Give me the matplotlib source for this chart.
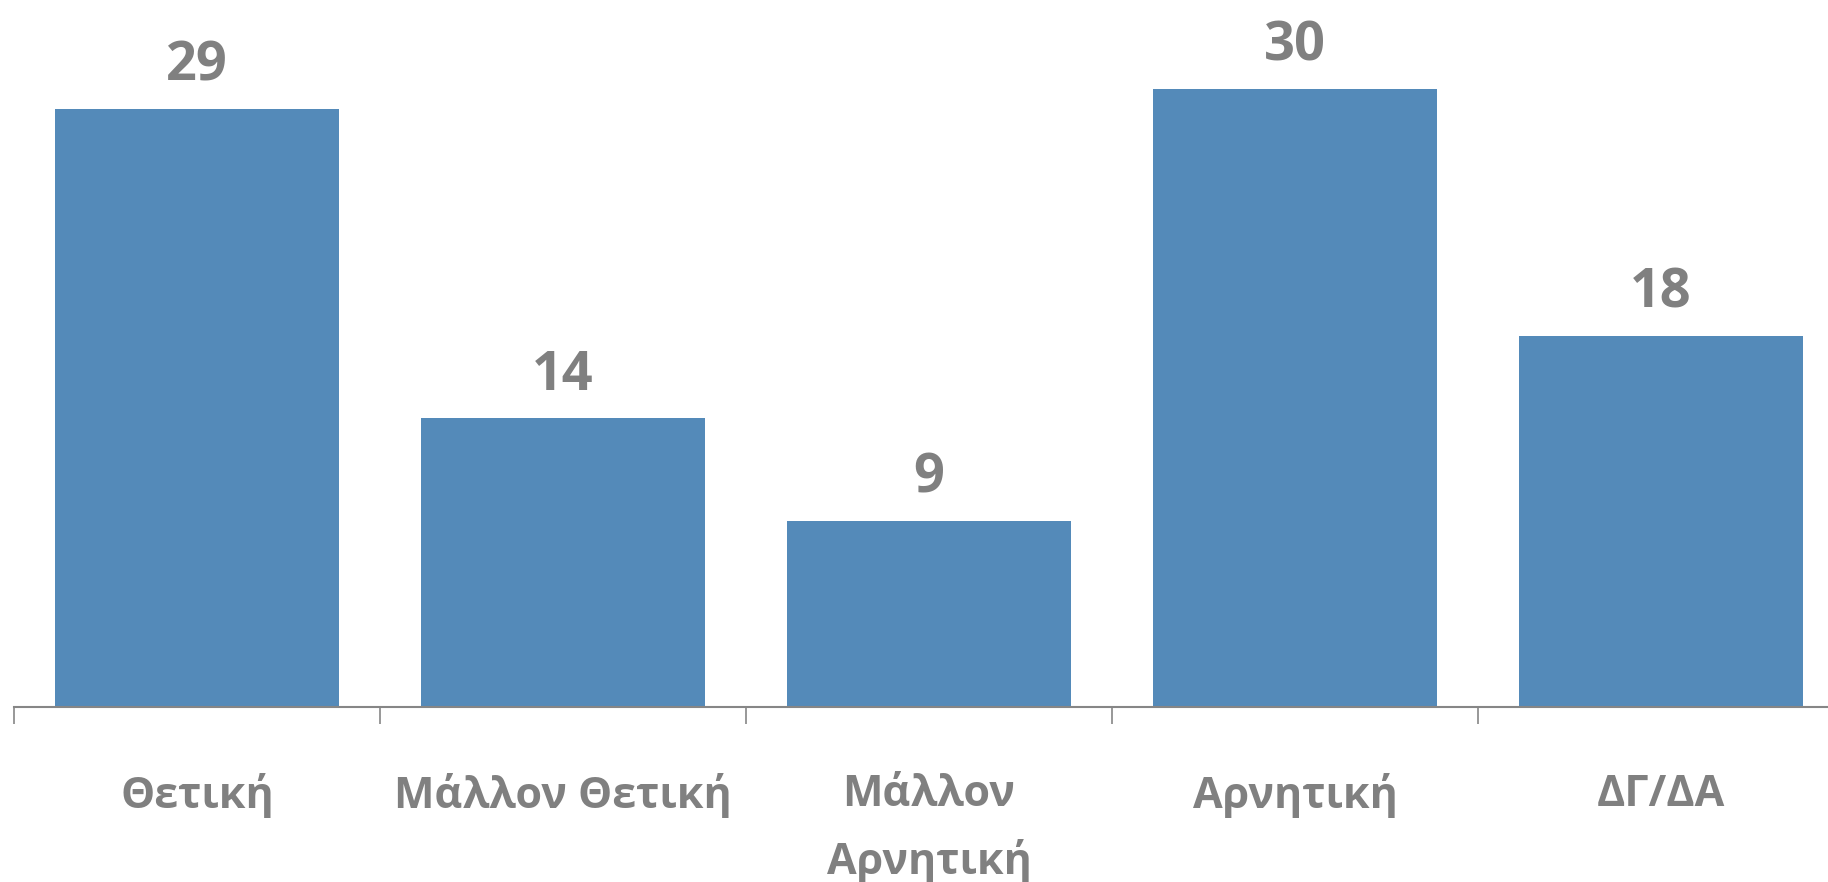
import matplotlib
matplotlib.use('Agg')
import matplotlib.pyplot as plt
import numpy as np

categories = ['Θετική', 'Μάλλον Θετική', 'Μάλλον\nΑρνητική', 'Αρνητική', 'ΔΓ/ΔΑ']
values = [29, 14, 9, 30, 18]

plt.rcParams['font.family'] = ['Open Sans', 'DejaVu Sans']
grey = '#808080'

fig = plt.figure(figsize=(18.28, 8.82), dpi=100)
ax = fig.add_axes([14 / 1828, 175.5 / 882, 1830 / 1828, 706.5 / 882])

x = np.arange(len(categories))
bars = ax.bar(x, values, width=0.774, color='#548AB9', zorder=2)

ax.set_xlim(-0.5, len(categories) - 0.5)
ax.set_ylim(0, 34.3)

for b, v in zip(bars, values):
    ax.annotate(str(v), (b.get_x() + b.get_width() / 2, v), xytext=(0, 11),
                textcoords='offset points', ha='center', va='bottom',
                fontsize=39, fontweight='bold', color=grey)

for s in ['top', 'right', 'left']:
    ax.spines[s].set_visible(False)
ax.spines['bottom'].set_color('#868686')
ax.spines['bottom'].set_linewidth(1.5)
ax.set_yticks([])

ax.set_xticks(x)
ax.set_xticklabels(categories, fontsize=31, fontweight='bold', color=grey,
                   va='top', linespacing=1.65)
ax.tick_params(axis='x', which='major', length=0, pad=48)
ax.set_xticks(np.arange(-0.5, len(categories)), minor=True)
ax.tick_params(axis='x', which='minor', length=12, width=1.2, color='#868686')

fig.savefig('out.png', dpi=100, facecolor='white')
